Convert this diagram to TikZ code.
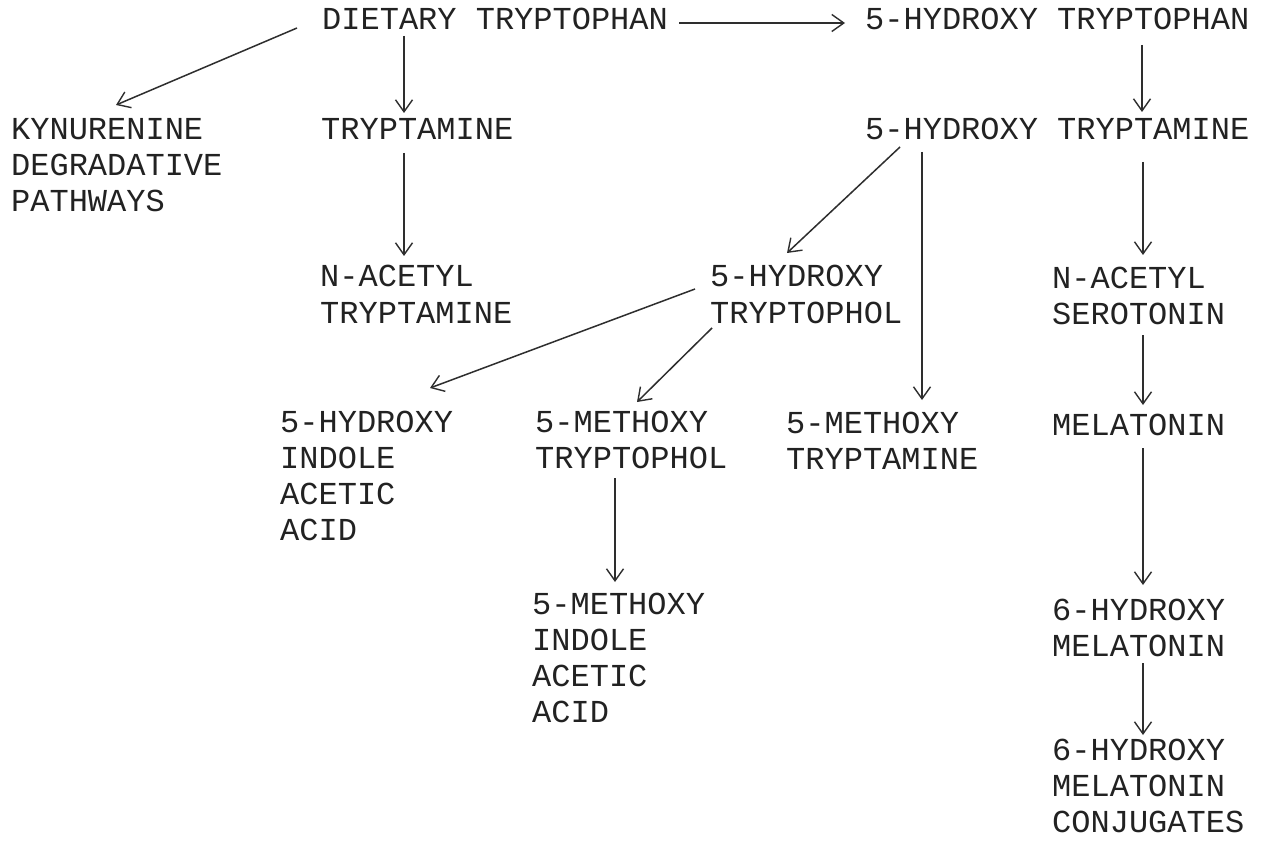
\documentclass[tikz,border=0pt]{standalone}
\usepackage{fontspec}
\setmonofont{Liberation Mono}
\usetikzlibrary{arrows.meta,calc}
\definecolor{ink}{HTML}{222222}
\definecolor{lineink}{HTML}{2E2E2E}
\newcommand{\stk}[1]{\begin{tabular}[t]{@{}l@{}}#1\end{tabular}}
\tikzset{
  lbl/.style={anchor=base west, inner sep=0pt, text=ink,
    font=\ttfamily\fontsize{32}{36}\selectfont},
  arr/.style={draw=lineink, line width=1.5pt,
    -{Straight Barb[length=12pt,width=17pt,line width=1.4pt]}}
}
\begin{document}
\begin{tikzpicture}[x=1pt,y=-1pt]
\useasboundingbox (0,0) rectangle (1264,845);
\fill[white] (0,0) rectangle (1264,845);

\node[lbl] (dt)   at (322,30)  {DIETARY TRYPTOPHAN};
\node[lbl] (htp)  at (865,30)  {5-HYDROXY TRYPTOPHAN};
\node[lbl] (kyn)  at (11,140)  {\stk{KYNURENINE\\DEGRADATIVE\\PATHWAYS}};
\node[lbl] (tryp) at (321,140) {TRYPTAMINE};
\node[lbl] (ht)   at (865,140) {5-HYDROXY TRYPTAMINE};
\node[lbl] (nat)  at (320,287) {\stk{N-ACETYL\\TRYPTAMINE}};
\node[lbl] (htol) at (710,287) {\stk{5-HYDROXY\\TRYPTOPHOL}};
\node[lbl] (nas)  at (1052,288) {\stk{N-ACETYL\\SEROTONIN}};
\node[lbl] (hiaa) at (280,432) {\stk{5-HYDROXY\\INDOLE\\ACETIC\\ACID}};
\node[lbl] (mtol) at (535,432) {\stk{5-METHOXY\\TRYPTOPHOL}};
\node[lbl] (mt)   at (786,433) {\stk{5-METHOXY\\TRYPTAMINE}};
\node[lbl] (mel)  at (1052,435) {MELATONIN};
\node[lbl] (miaa) at (532,614) {\stk{5-METHOXY\\INDOLE\\ACETIC\\ACID}};
\node[lbl] (hm)   at (1052,620) {\stk{6-HYDROXY\\MELATONIN}};
\node[lbl] (hmc)  at (1052,760) {\stk{6-HYDROXY\\MELATONIN\\CONJUGATES}};

\draw[arr] ($(dt.base west)+(-25,-2)$) -- ($(kyn.base west)+(105,-35)$);
\draw[arr] ($(dt.base west)+(82,6)$) -- ($(tryp.base west)+(83,-27)$);
\draw[arr] ($(dt.base west)+(357,-7)$) -- ($(htp.base west)+(-20,-7)$);
\draw[arr] ($(tryp.base west)+(83,13)$) -- ($(nat.base west)+(84,-31)$);
\draw[arr] ($(htp.base west)+(277,15)$) -- ($(ht.base west)+(277,-28)$);
\draw[arr] ($(ht.base west)+(35,7)$) -- ($(htol.base west)+(77,-34)$);
\draw[arr] ($(ht.base west)+(57,12)$) -- ($(mt.base west)+(136,-33)$);
\draw[arr] ($(ht.base west)+(278,22)$) -- ($(nas.base west)+(91,-33)$);
\draw[arr] ($(htol.base west)+(-15,2)$) -- ($(hiaa.base west)+(150,-44)$);
\draw[arr] ($(htol.base west)+(2,41)$) -- ($(mtol.base west)+(102,-30)$);
\draw[arr] ($(mtol.base west)+(80,46)$) -- ($(miaa.base west)+(83,-32)$);
\draw[arr] ($(nas.base west)+(91,47)$) -- ($(mel.base west)+(91,-30)$);
\draw[arr] ($(mel.base west)+(91,13)$) -- ($(hm.base west)+(91,-35)$);
\draw[arr] ($(hm.base west)+(91,43)$) -- ($(hmc.base west)+(91,-25)$);
\end{tikzpicture}
\end{document}
